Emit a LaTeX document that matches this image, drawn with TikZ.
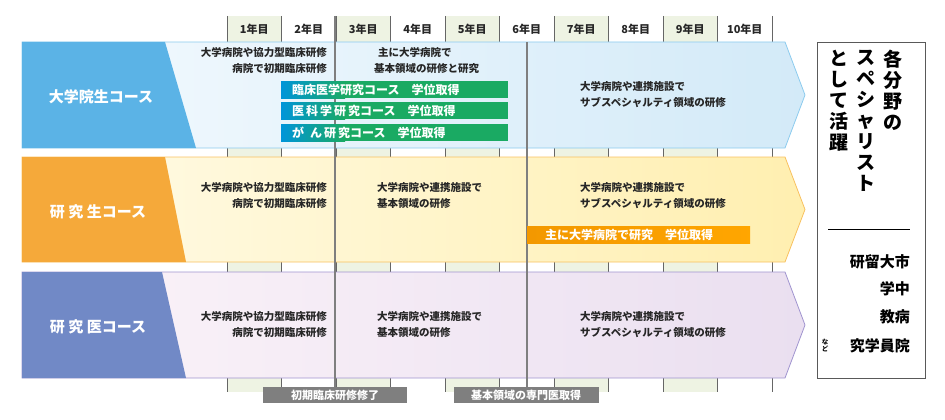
\documentclass[tikz,border=0pt]{standalone}
\usepackage{fontspec}
\setmainfont{Noto Sans CJK JP}
\usepackage{tikz}
\usetikzlibrary{calc}
\definecolor{colgreen}{HTML}{EEF3E3}
\definecolor{barblue}{HTML}{0095D9}
\definecolor{bargreen}{HTML}{1AAA63}
\definecolor{barorange}{HTML}{F39800}
\definecolor{lineg}{HTML}{7F7F7F}
\definecolor{dblue}{HTML}{5BB3E6}
\definecolor{lblue}{HTML}{F4FAFE}
\definecolor{mblue}{HTML}{D3EAF8}
\definecolor{oblue}{HTML}{8CCBEE}
\definecolor{dorange}{HTML}{F5A93A}
\definecolor{lorange}{HTML}{FFFBE8}
\definecolor{morange}{HTML}{FFEFB0}
\definecolor{oorange}{HTML}{F8C160}
\definecolor{dviolet}{HTML}{7189C6}
\definecolor{lviolet}{HTML}{FCF4F9}
\definecolor{mviolet}{HTML}{EADFF0}
\definecolor{oviolet}{HTML}{A094CF}
\tikzset{
  txt/.style={font=\fontsize{10.5}{16}\selectfont\bfseries, text=black!85, inner sep=0pt},
  head/.style={txt, font=\fontsize{11}{12}\selectfont\bfseries},
  course/.style={font=\fontsize{15}{17}\selectfont\bfseries, text=white, inner sep=0pt},
  bartxt/.style={font=\fontsize{12}{13}\selectfont\bfseries, text=white, inner sep=0pt, anchor=west},
  tag/.style={fill=lineg, text=white, font=\fontsize{11}{12}\selectfont\bfseries, inner sep=0pt, minimum height=16pt},
  vert/.style={font=\fontsize{19}{21}\selectfont\bfseries, align=center, inner sep=0pt, anchor=north},
  vrow/.style={font=\fontsize{15}{16}\selectfont\bfseries, inner sep=0pt, anchor=east}
}
% band: #1 top, #2 bottom, #3 left top x, #4 left bottom x, #5 dark, #6 light, #7 deep, #8 outline
\newcommand{\band}[8]{
  \shade[left color=#6, right color=#7] (22,#1) -- (785,#1) -- (805,{(#1+#2)/2}) -- (785,#2) -- (22,#2) -- cycle;
  \draw[#8, line width=0.8pt] (22,#1) -- (785,#1) -- (805,{(#1+#2)/2}) -- (785,#2) -- (22,#2) -- cycle;
  \fill[#5] (22,#1) -- (#3,#1) -- (#4,#2) -- (22,#2) -- cycle;}
\newcommand{\gradbar}[2]{
  \fill[bargreen] (281,#1) rectangle (508,#1+17);
  \shade[left color=barblue, right color=bargreen] (281,#1) rectangle (345,#1+17);
  \node[bartxt] (#2) at (292,#1+8.5)}

\begin{document}
\begin{tikzpicture}[x=1pt,y=-1pt]
  \useasboundingbox (0,0) rectangle (945,420);
  % year columns
  \foreach \i in {1,...,10} {
    \pgfmathsetmacro{\xa}{227+54.5*(\i-1)}
    \pgfmathsetmacro{\xb}{227+54.5*\i}
    \ifodd\i \fill[colgreen] (\xa,16) rectangle (\xb,392); \fi
    \node[head] (y\i) at ({(\xa+\xb)/2},29) {\i 年目};
  }
  \foreach \i in {0,...,10} \draw[black!60, line width=0.6pt] ({227+54.5*\i},16) -- ({227+54.5*\i},392);
  % bands
  \band{42}{148}{165}{196}{dblue}{lblue}{mblue}{oblue}
  \band{157}{262}{165}{186}{dorange}{lorange}{morange}{oorange}
  \band{272}{378}{162}{186}{dviolet}{lviolet}{mviolet}{oviolet}
  \node[course] (c1) at (101,97) {大学院生コース};
  \node[course] (c2) at (98,212) {研\ 究\ 生コース};
  \node[course] (c3) at (98,327) {研\ 究\ 医コース};
  % milestones
  \draw[lineg, line width=1.5pt] (335,16) -- (335,392);
  \draw[lineg, line width=1.5pt] (527,42) -- (527,392);
  % band texts
  \foreach \y/\n in {61/a,196/b,325/c}
    \node[txt, align=right, anchor=east] (init\n) at (327,\y) {大学病院や協力型臨床研修\\病院で初期臨床研修};
  \node[txt, align=left, anchor=west] (basea) at (374,61) {\hspace{4pt}主に大学病院で\\基本領域の研修と研究};
  \node[txt, align=left, anchor=west] (baseb) at (377,196) {大学病院や連携施設で\\基本領域の研修};
  \node[txt, align=left, anchor=west] (basec) at (377,325) {大学病院や連携施設で\\基本領域の研修};
  \foreach \y/\n in {95/a,196/b,325/c}
    \node[txt, align=left, anchor=west] (sub\n) at (580,\y) {大学病院や連携施設で\\サブスペシャルティ領域の研修};
  \gradbar{81}{bar1} {臨床医学研究コース\quad 学位取得};
  \gradbar{102}{bar2} {医\,科\,学\,研\,究コース\quad 学位取得};
  \gradbar{124}{bar3} {が\enspace ん\,研\,究コース\quad 学位取得};
  \shade[left color=barorange, right color=orange!70!yellow] (527,226) rectangle (750,243);
  \node[bartxt] (bar4) at (545,234.5) {主に大学病院で研究\quad 学位取得};
  % bottom tags
  \node[tag, minimum width=144pt] (t1) at (335,395) {初期臨床研修修了};
  \node[tag, minimum width=145pt] (t2) at (526,395) {基本領域の専門医取得};
  % right box
  \draw[black!65, line width=0.8pt] (817,42) rectangle (925,378);
  \node[vert] (v1) at (893,50) {各\\分\\野\\の};
  \node[vert] (v2) at (866,50) {ス\\ペ\\シ\\ャ\\リ\\ス\\ト};
  \node[vert] (v3) at (839,50) {と\\し\\て\\活\\躍};
  \draw[black, line width=0.8pt] (828,229) -- (910,229);
  \node[vrow] (r1) at (910,262) {研留大市};
  \node[vrow] (r2) at (910,289) {学中};
  \node[vrow] (r3) at (910,317) {教病};
  \node[vrow] (r4) at (910,346) {究学員院};
  \node[font=\fontsize{6.5}{7}\selectfont\bfseries, align=center, inner sep=0pt] (r5) at (825,346) {な\\ど};
\end{tikzpicture}
\end{document}
